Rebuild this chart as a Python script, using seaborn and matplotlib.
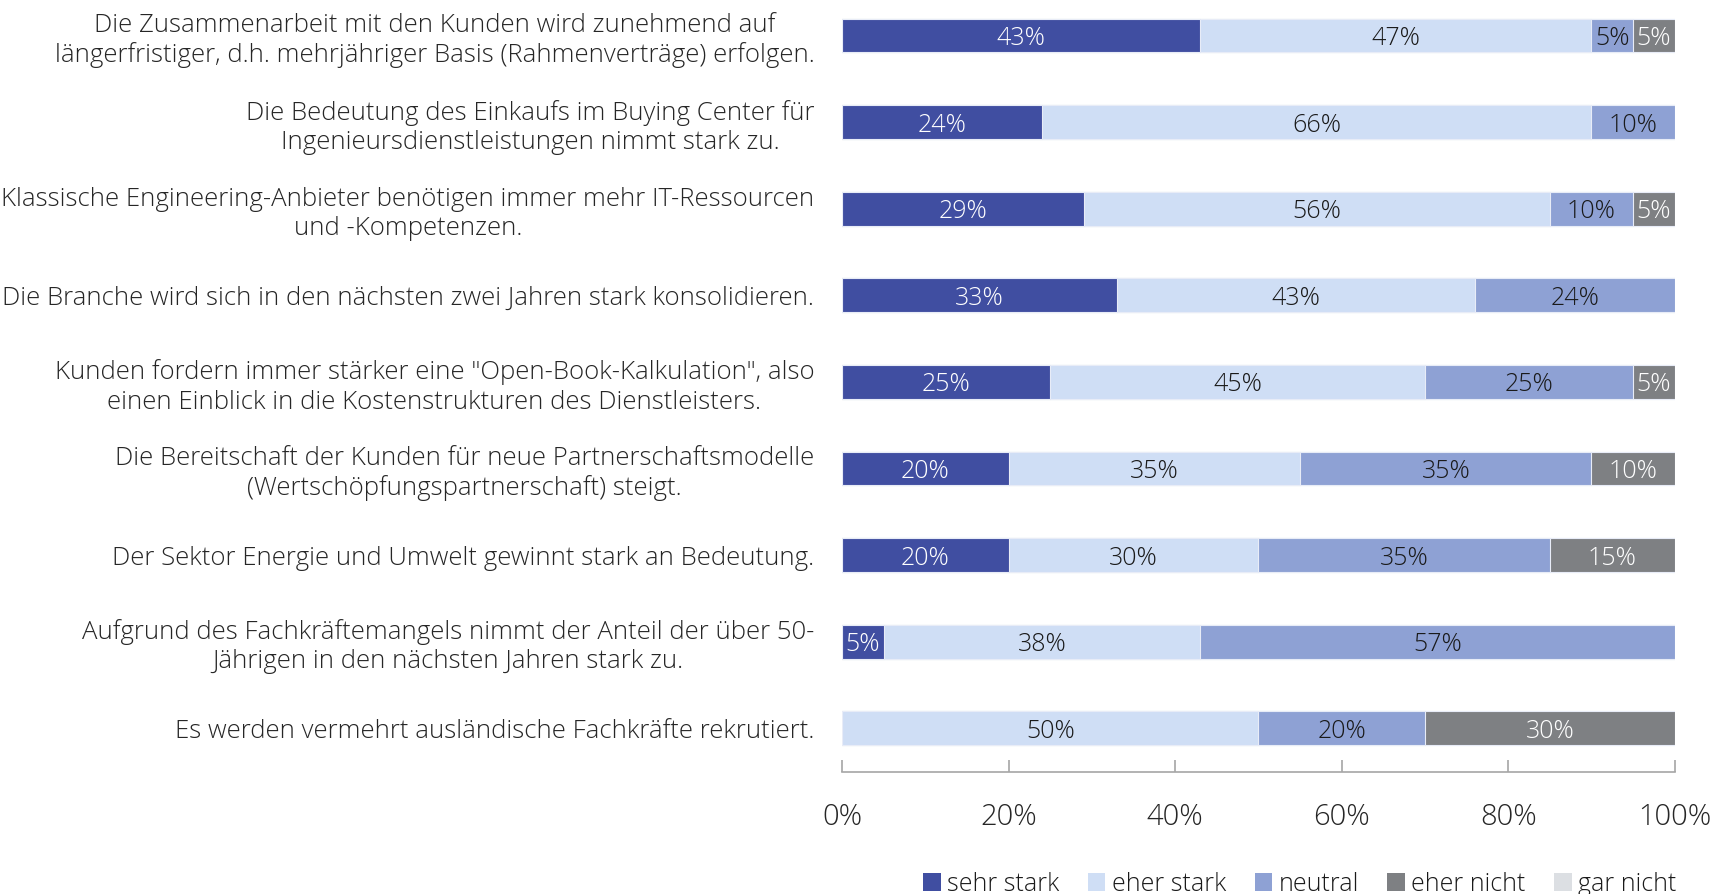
import numpy as np
import pandas as pd
import matplotlib
matplotlib.use("Agg")
import matplotlib.pyplot as plt
import seaborn as sns
from matplotlib.patches import Patch

# statements (y categories)
statements = [
    "Die Zusammenarbeit mit den Kunden wird zunehmend auf\nlängerfristiger, d.h. mehrjähriger Basis (Rahmenverträge) erfolgen.",
    "Die Bedeutung des Einkaufs im Buying Center für\nIngenieursdienstleistungen nimmt stark zu.",
    "Klassische Engineering-Anbieter benötigen immer mehr IT-Ressourcen\nund -Kompetenzen.",
    "Die Branche wird sich in den nächsten zwei Jahren stark konsolidieren.",
    "Kunden fordern immer stärker eine \"Open-Book-Kalkulation\", also\neinen Einblick in die Kostenstrukturen des Dienstleisters.",
    "Die Bereitschaft der Kunden für neue Partnerschaftsmodelle\n(Wertschöpfungspartnerschaft) steigt.",
    "Der Sektor Energie und Umwelt gewinnt stark an Bedeutung.",
    "Aufgrund des Fachkräftemangels nimmt der Anteil der über 50-\nJährigen in den nächsten Jahren stark zu.",
    "Es werden vermehrt ausländische Fachkräfte rekrutiert.",
]

# answer shares in percent
sehr_stark = [43, 24, 29, 33, 25, 20, 20, 5, 0]
eher_stark = [47, 66, 56, 43, 45, 35, 30, 38, 50]
neutral = [5, 10, 10, 24, 25, 35, 35, 57, 20]
eher_nicht = [5, 0, 5, 0, 5, 10, 15, 0, 30]
gar_nicht = [0, 0, 0, 0, 0, 0, 0, 0, 0]

series_names = ["sehr stark", "eher stark", "neutral", "eher nicht", "gar nicht"]
colors = ["#404EA1", "#CFDEF5", "#8EA1D4", "#7E8083", "#DCDFE3"]
label_colors = ["white", "#1a1a1a", "#1a1a1a", "white", "#1a1a1a"]

df = pd.DataFrame({
    "statement": statements,
    "sehr stark": sehr_stark,
    "eher stark": eher_stark,
    "neutral": neutral,
    "eher nicht": eher_nicht,
    "gar nicht": gar_nicht,
})
cum = df[series_names].cumsum(axis=1)

sns.set_theme(style="white")
plt.rcParams["font.family"] = ["Open Sans", "DejaVu Sans"]
plt.rcParams["font.weight"] = "light"
plt.rcParams["text.color"] = "#1a1a1a"

fig = plt.figure(figsize=(17.23, 8.94), dpi=100)
ax = fig.add_axes([0.4887, 0.137, 0.4833, 0.863])

# stacked bars: draw cumulative totals from the largest down
for name, col in reversed(list(zip(series_names, colors))):
    sns.barplot(x=cum[name], y=df["statement"], orient="h", color=col,
                width=0.39, edgecolor="#E8ECF7", linewidth=0.8, ax=ax,
                saturation=1)

# segment labels
for i in range(len(df)):
    for j, name in enumerate(series_names):
        v = df.loc[i, name]
        if v <= 0:
            continue
        xc = cum.loc[i, name] - v / 2
        ax.text(xc, i, f"{v}%", ha="center", va="center_baseline",
                fontsize=18, color=label_colors[j])

ax.set_xlim(0, 100)
ax.set_ylim(8.5, -0.41)
ax.set_xlabel("")
ax.set_ylabel("")
ax.set_xticks([0, 20, 40, 60, 80, 100])
ax.set_xticklabels(["0%", "20%", "40%", "60%", "80%", "100%"], fontsize=21)
ax.set_yticks(range(len(statements)))
ax.set_yticklabels(statements, fontsize=18.5, multialignment="center",
                   linespacing=1.22)

for s in ["top", "right", "left"]:
    ax.spines[s].set_visible(False)
ax.spines["bottom"].set_color("#A6A6A6")
ax.spines["bottom"].set_linewidth(1.2)
ax.tick_params(axis="x", direction="in", length=9, width=1.2,
               color="#A6A6A6", pad=22, bottom=True)
ax.tick_params(axis="y", length=0, pad=20)

handles = [Patch(facecolor=c, edgecolor="none", label=n)
           for n, c in zip(series_names, colors)]
fig.legend(handles=handles, loc="lower right", ncol=5, frameon=False,
           fontsize=18, bbox_to_anchor=(0.986, -0.028), handlelength=0.7,
           handleheight=0.7, handletextpad=0.25, columnspacing=1.15)

fig.savefig("out.png", dpi=100)
